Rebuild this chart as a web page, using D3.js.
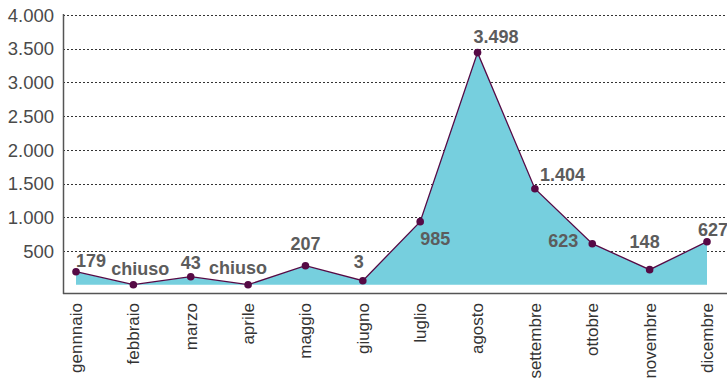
<!DOCTYPE html>
<html>
<head>
<meta charset="utf-8">
<script src="https://cdn.jsdelivr.net/npm/d3@7"></script>
<style>
  html, body { margin: 0; padding: 0; background: #fff; }
  svg { display: block; }
</style>
</head>
<body>
<svg id="chart" width="727" height="382"></svg>
<script>
// ---- data ----
const months = ["gennnaio","febbraio","marzo","aprile","maggio","giugno","luglio","agosto","settembre","ottobre","novembre","dicembre"];
const values = [193, 0, 119, 0, 282, 59, 935, 3442, 1424, 608, 223, 638];
const valueLabels = ["179","chiuso","43","chiuso","207","3","985","3.498","1.404","623","148","627"];
const yTicks = [500, 1000, 1500, 2000, 2500, 3000, 3500, 4000];

// ---- layout ----
const W = 727, H = 382;
const axisX = 63, axisY = 293;
const svg = d3.select("#chart");

const x = d3.scalePoint().domain(months).range([76, 707]);
const y = d3.scaleLinear().domain([0, 4000]).range([284.7, 15]);

// gridlines
svg.append("g").selectAll("line").data(yTicks).join("line")
  .attr("x1", axisX).attr("x2", W)
  .attr("y1", d => Math.round(y(d)) + 0.5).attr("y2", d => Math.round(y(d)) + 0.5)
  .attr("stroke", "#333").attr("stroke-width", 1)
  .attr("stroke-dasharray", "2,2");

// y tick labels
const fmt = d => d3.format(",")(d).replace(/,/g, ".");
svg.append("g").selectAll("text").data(yTicks).join("text")
  .attr("x", 54).attr("y", d => y(d))
  .attr("dy", "0.36em")
  .attr("text-anchor", "end")
  .attr("font-family", "Liberation Sans, Arial, sans-serif")
  .attr("font-size", 18.5)
  .attr("fill", "#4a4a4a")
  .text(fmt);

// area
const area = d3.area()
  .x(d => x(d.m)).y0(y(0)).y1(d => y(d.v));
const line = d3.line().x(d => x(d.m)).y(d => y(d.v));
const data = months.map((m, i) => ({ m, v: values[i], label: valueLabels[i] }));

svg.append("path").datum(data)
  .attr("d", area)
  .attr("fill", "#76cfde");

svg.append("path").datum(data)
  .attr("d", line)
  .attr("fill", "none")
  .attr("stroke", "#560a45")
  .attr("stroke-width", 1.3);

svg.append("g").selectAll("circle").data(data).join("circle")
  .attr("cx", d => x(d.m)).attr("cy", d => y(d.v))
  .attr("r", 3.8)
  .attr("fill", "#560a45");

// axes lines
svg.append("line")
  .attr("x1", axisX + 0.5).attr("x2", axisX + 0.5)
  .attr("y1", 14).attr("y2", axisY + 1)
  .attr("stroke", "#555").attr("stroke-width", 1.5);
svg.append("line")
  .attr("x1", axisX).attr("x2", W)
  .attr("y1", axisY + 0.5).attr("y2", axisY + 0.5)
  .attr("stroke", "#555").attr("stroke-width", 1.5);

// month labels (rotated)
svg.append("g").selectAll("text").data(months).join("text")
  .attr("transform", d => `translate(${x(d)},303) rotate(-90)`)
  .attr("dy", "0.35em")
  .attr("text-anchor", "end")
  .attr("font-family", "Liberation Sans, Arial, sans-serif")
  .attr("font-size", 17)
  .attr("fill", "#333")
  .text(d => d);

// data label placement: [anchor, dx, dy]
const place = [
  ["start", 0, -5], ["middle", 7, -10], ["middle", 0, -8], ["middle", -10, -11],
  ["middle", 0, -16], ["middle", -4, -13], ["start", 0, 23], ["start", -4, -10],
  ["start", 5, -8], ["end", -14, 3], ["middle", -5, -22], ["start", -9, -6]
];
svg.append("g").selectAll("text").data(data).join("text")
  .attr("x", (d, i) => x(d.m) + place[i][1])
  .attr("y", (d, i) => y(d.v) + place[i][2])
  .attr("text-anchor", (d, i) => place[i][0])
  .attr("font-family", "Liberation Sans, Arial, sans-serif")
  .attr("font-weight", "bold")
  .attr("font-size", 18)
  .attr("fill", "#5c5c5c")
  .text(d => d.label);
</script>
</body>
</html>
